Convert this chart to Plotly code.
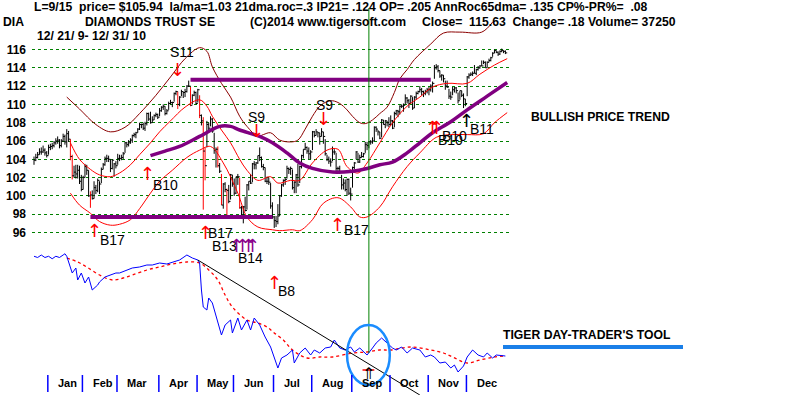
import plotly.graph_objects as go
import pandas as pd

# ---------------- data ----------------
holidays = ['2009-12-25', '2010-01-01', '2010-01-18', '2010-02-15', '2010-04-02',
            '2010-05-31', '2010-07-05', '2010-09-06', '2010-11-25', '2010-12-24']
dates = [d for d in pd.bdate_range('2009-12-21', '2010-12-31')
         if d.strftime('%Y-%m-%d') not in holidays]

close_dec09 = [103.9, 104.2, 104.5, 104.8, 104.8, 105.0, 104.7, 104.4]
high_dec09 = [104.3, 104.6, 104.8, 105.2, 105.3, 105.5, 105.2, 104.9]
low_dec09 = [103.4, 103.8, 104.1, 104.5, 104.5, 104.7, 104.4, 104.2]

close_jan = [105.3, 105.4, 105.5, 105.8, 106.0, 106.1, 105.5, 106.0, 106.5, 105.9, 106.8, 106.2, 104.3, 102.2, 102.6, 102.4, 102.8, 101.6, 100.7]
high_jan = [105.6, 105.7, 105.8, 106.0, 106.3, 106.5, 106.2, 106.2, 106.8, 106.7, 107.3, 107.1, 106.2, 104.5, 103.3, 103.4, 103.4, 103.3, 102.3]
low_jan = [104.5, 105.0, 105.1, 105.3, 105.6, 105.7, 105.2, 105.3, 105.9, 105.6, 105.3, 105.9, 103.9, 101.8, 102.0, 101.9, 101.9, 101.3, 100.5]

close_feb = [102.0, 103.2, 102.8, 100.0, 100.1, 99.7, 100.9, 100.6, 101.7, 101.3, 102.9, 103.4, 104.1, 104.1, 104.0, 103.0, 103.9, 103.5, 103.3]
high_feb = [102.2, 103.5, 103.4, 102.8, 100.5, 100.6, 101.6, 101.2, 101.9, 101.6, 103.1, 103.6, 104.3, 104.5, 104.4, 104.0, 104.0, 103.6, 103.8]
low_feb = [100.7, 102.0, 102.3, 99.9, 98.7, 99.6, 99.7, 100.2, 100.4, 100.2, 101.4, 102.9, 103.3, 103.7, 103.7, 102.6, 102.9, 102.1, 103.0]

close_mar = [104.1, 104.1, 104.2, 104.6, 105.8, 105.6, 105.8, 106.1, 106.6, 106.7, 106.9, 107.3, 107.8, 107.8, 107.4, 107.9, 109.0, 108.4, 108.0, 108.3, 108.8, 108.9, 108.6]
high_mar = [104.6, 104.5, 104.5, 104.8, 105.9, 105.9, 106.1, 106.3, 106.7, 106.9, 107.0, 107.4, 108.0, 107.9, 108.0, 108.1, 109.1, 109.1, 109.2, 108.7, 108.9, 109.1, 109.0]
low_mar = [103.4, 103.8, 103.9, 104.0, 104.7, 105.3, 105.4, 105.7, 105.8, 106.4, 106.3, 106.9, 107.2, 107.4, 107.2, 107.1, 107.7, 108.2, 107.9, 108.0, 108.3, 108.6, 108.4]

close_apr = [109.3, 109.7, 109.8, 109.0, 109.3, 110.1, 110.2, 110.2, 111.2, 111.4, 110.0, 110.8, 111.4, 111.3, 111.4, 112.0, 112.0, 109.9, 111.0, 111.3, 110.1]
high_apr = [109.6, 109.8, 110.0, 109.8, 109.5, 110.3, 110.5, 110.3, 111.3, 111.5, 111.4, 110.9, 111.6, 111.4, 111.7, 112.1, 112.6, 111.9, 111.1, 111.5, 111.4]
low_apr = [108.7, 109.2, 109.4, 108.8, 108.9, 109.4, 110.0, 109.7, 110.3, 111.0, 109.5, 109.8, 110.9, 110.7, 110.8, 111.3, 111.9, 109.8, 110.0, 110.9, 110.0]

close_may = [111.6, 108.8, 108.2, 104.9, 103.3, 107.8, 107.4, 108.4, 107.1, 105.0, 105.1, 103.3, 102.7, 99.0, 101.3, 100.7, 100.6, 99.4, 102.3, 101.3]
high_may = [111.7, 111.0, 108.9, 108.6, 105.3, 108.2, 108.0, 108.7, 108.5, 106.9, 105.3, 105.4, 103.6, 102.4, 101.4, 101.5, 100.8, 101.2, 102.4, 102.3]
low_may = [110.2, 108.5, 107.7, 98.5, 101.7, 105.3, 106.9, 107.6, 106.9, 104.6, 103.1, 103.1, 102.5, 99.0, 98.6, 100.4, 97.8, 99.2, 99.6, 101.0]

close_jun = [100.3, 102.1, 102.1, 98.7, 97.6, 98.8, 98.4, 101.2, 101.6, 101.4, 103.5, 103.4, 103.6, 104.4, 104.2, 103.2, 103.1, 101.6, 101.6, 101.5, 98.9, 97.7]
high_jun = [101.9, 102.1, 102.4, 102.0, 98.9, 98.9, 99.9, 101.3, 101.6, 102.4, 103.6, 103.8, 103.7, 104.4, 105.3, 104.3, 103.5, 103.1, 102.1, 102.0, 101.4, 99.3]
low_jun = [100.0, 100.2, 101.2, 98.6, 97.6, 97.0, 98.3, 98.5, 100.6, 101.3, 101.5, 102.9, 102.9, 103.5, 103.8, 103.1, 102.8, 101.5, 101.3, 101.2, 98.6, 97.5]

close_jul = [97.3, 97.2, 97.8, 100.0, 101.2, 101.7, 101.8, 103.0, 102.9, 103.0, 100.9, 101.5, 102.3, 101.2, 103.2, 104.4, 105.1, 105.3, 104.9, 104.6, 104.8]
high_jul = [97.8, 97.8, 99.1, 100.1, 101.3, 101.8, 102.0, 103.3, 103.1, 103.2, 102.9, 101.6, 102.4, 103.5, 103.3, 104.5, 105.1, 105.8, 105.4, 105.3, 105.0]
low_jul = [96.5, 96.6, 96.9, 97.8, 99.9, 101.0, 101.2, 101.9, 102.4, 102.3, 100.7, 100.3, 100.3, 101.0, 101.4, 103.0, 104.1, 105.0, 104.6, 104.0, 104.0]

close_aug = [107.0, 106.6, 107.0, 106.9, 106.5, 107.0, 106.5, 104.6, 104.0, 103.8, 103.7, 104.8, 104.8, 103.0, 103.0, 102.6, 101.2, 101.4, 100.7, 101.8, 100.3, 100.2]
high_aug = [107.1, 107.1, 107.3, 107.0, 106.9, 107.4, 107.0, 106.2, 104.5, 104.3, 104.1, 105.4, 105.1, 104.7, 103.2, 103.3, 102.3, 101.9, 101.8, 101.9, 101.9, 100.9]
low_aug = [105.0, 106.4, 106.6, 106.4, 105.6, 106.5, 105.7, 104.4, 103.8, 103.5, 103.2, 103.8, 104.5, 102.7, 102.4, 102.4, 100.7, 100.7, 100.5, 100.0, 100.1, 99.5]

close_sep = [103.1, 103.6, 104.8, 103.7, 104.2, 104.3, 104.6, 105.6, 105.5, 105.9, 105.9, 106.0, 107.5, 107.3, 107.0, 106.3, 108.3, 107.8, 108.2, 108.0, 107.8]
high_sep = [103.2, 103.7, 104.9, 104.7, 104.5, 104.8, 104.7, 105.9, 105.9, 106.0, 106.1, 106.4, 107.6, 107.6, 107.2, 107.0, 108.4, 108.3, 108.3, 108.2, 108.6]
low_sep = [100.9, 102.9, 104.0, 103.6, 103.6, 104.2, 104.2, 104.7, 105.0, 105.2, 105.6, 105.7, 106.0, 107.0, 106.6, 106.2, 106.4, 107.8, 107.4, 107.6, 107.5]

close_oct = [108.2, 107.4, 109.0, 109.3, 109.2, 109.8, 109.8, 109.9, 110.7, 110.4, 110.1, 110.9, 109.6, 110.8, 111.2, 111.4, 111.6, 111.4, 111.2, 111.4, 111.6]
high_oct = [108.8, 108.3, 109.2, 109.4, 109.4, 109.9, 110.0, 110.1, 111.1, 110.8, 110.6, 111.0, 110.8, 110.9, 111.4, 111.5, 112.0, 111.8, 111.5, 111.6, 111.8]
low_oct = [107.7, 107.3, 107.5, 108.8, 108.6, 108.9, 109.6, 109.2, 110.0, 110.1, 109.6, 110.1, 109.4, 109.6, 110.5, 111.1, 111.3, 111.0, 110.8, 111.0, 111.2]

close_nov = [111.6, 112.0, 112.3, 114.0, 114.1, 113.7, 113.1, 113.2, 112.8, 112.0, 111.9, 110.9, 110.8, 111.6, 111.8, 111.5, 110.4, 111.5, 111.0, 110.6, 110.1]
high_nov = [111.9, 112.2, 112.5, 114.3, 114.4, 114.3, 113.7, 113.3, 113.2, 112.6, 112.6, 111.7, 111.4, 111.9, 111.9, 111.9, 111.3, 111.5, 111.5, 111.2, 110.6]
low_nov = [111.0, 111.4, 111.3, 112.8, 113.8, 113.5, 112.9, 112.6, 112.4, 111.6, 111.8, 110.6, 110.5, 111.0, 111.3, 111.2, 110.1, 110.5, 110.8, 109.6, 109.8]

close_dec = [113.0, 113.2, 113.3, 113.4, 113.4, 113.8, 114.0, 114.2, 114.2, 114.6, 114.0, 114.6, 114.8, 115.1, 115.6, 115.9, 115.7, 115.5, 115.8, 115.9, 115.8, 115.63]
high_dec = [113.1, 113.4, 113.5, 113.6, 114.3, 113.9, 114.2, 114.3, 114.8, 114.8, 114.7, 114.7, 115.0, 115.2, 115.7, 116.0, 115.9, 115.8, 115.9, 116.1, 115.9, 115.9]
low_dec = [110.9, 112.8, 113.1, 113.1, 113.4, 113.2, 113.7, 113.9, 114.2, 114.4, 114.0, 114.0, 114.6, 114.7, 115.2, 115.6, 115.6, 115.3, 115.4, 115.7, 115.6, 115.5]

closes = close_dec09 + close_jan + close_feb + close_mar + close_apr + close_may + close_jun + close_jul + close_aug + close_sep + close_oct + close_nov + close_dec
highs = high_dec09 + high_jan + high_feb + high_mar + high_apr + high_may + high_jun + high_jul + high_aug + high_sep + high_oct + high_nov + high_dec
lows = low_dec09 + low_jan + low_feb + low_mar + low_apr + low_may + low_jun + low_jul + low_aug + low_sep + low_oct + low_nov + low_dec

red_bar_days = [20, 21, 31, 79, 86, 91, 93, 94, 101, 103, 106, 113]

# bands (trading-day index, price)
outer_idx = [18, 25, 34, 42, 50, 58, 67, 75, 83, 91, 95, 98, 103, 108, 113, 117, 123, 126, 130, 135, 141, 145, 149, 153, 157, 161, 164, 168, 172, 175, 179, 182, 186, 190, 194, 198, 201, 205, 209, 218, 225, 234, 246, 252]
outer_val = [110.8, 109.5, 107.8, 107.0, 107.5, 109.0, 111.0, 113.0, 115.0, 116.2, 115.8, 114.1, 112.3, 110.8, 108.7, 107.6, 106.5, 106.7, 106.9, 106.1, 105.9, 106.1, 107.3, 108.7, 109.8, 110.3, 110.4, 110.1, 109.4, 108.7, 108.0, 107.9, 108.3, 109.0, 109.7, 111.3, 112.8, 113.8, 114.9, 116.6, 117.8, 117.9, 117.9, 119.0]

inner_idx = [20, 25, 31, 36, 42, 47, 53, 58, 64, 69, 75, 83, 91, 95, 98, 103, 108, 113, 117, 123, 130, 134, 141, 146, 153, 161, 167, 172, 178, 183, 190, 197, 205, 212, 219, 227, 238, 245, 253, 260]
inner_val = [105.8, 104.0, 102.9, 102.3, 102.1, 102.5, 103.4, 104.5, 105.8, 107.0, 108.2, 109.7, 110.5, 109.8, 108.7, 107.2, 105.8, 104.0, 102.8, 101.7, 102.1, 101.4, 101.7, 101.7, 103.6, 105.0, 105.1, 103.2, 102.5, 103.6, 105.8, 108.0, 109.8, 110.8, 111.9, 112.3, 112.3, 113.3, 114.3, 115.0]

lower_idx = [20, 25, 31, 36, 42, 47, 53, 58, 64, 69, 76, 84, 91, 97, 104, 112, 117, 123, 131, 135, 142, 146, 153, 159, 167, 174, 179, 183, 190, 197, 205, 212, 221, 229, 238, 247, 253, 260]
lower_val = [100.3, 99.0, 98.1, 97.2, 96.8, 96.9, 97.4, 98.6, 100.3, 101.6, 102.8, 104.2, 105.0, 105.4, 103.6, 100.3, 97.7, 96.6, 96.3, 96.2, 96.3, 96.2, 97.4, 99.2, 99.8, 98.8, 97.7, 97.7, 98.8, 101.0, 103.2, 104.7, 106.4, 106.7, 106.7, 106.8, 108.0, 109.1]

ma65_idx = [64, 72, 80, 91, 102, 108, 113, 124, 131, 139, 146, 153, 164, 175, 183, 190, 197, 205, 212, 219, 229, 238, 249, 260]
ma65_val = [104.4, 104.9, 105.4, 106.5, 107.6, 107.6, 107.2, 106.5, 105.8, 104.7, 103.6, 103.0, 102.6, 102.7, 103.0, 103.4, 103.7, 104.7, 105.8, 106.9, 108.1, 109.4, 110.9, 112.4]

resist_level, resist_from, resist_to = 112.7, 86, 218
support_level, support_from, support_to = 97.7, 31, 131

# Tiger Day-Trader's Tool oscillator
dtt_idx = [0, 2, 4, 6, 8, 10, 12, 14, 16, 17, 18, 21, 23, 24, 26, 28, 30, 32, 35, 36, 39, 42, 45, 47, 51, 54, 58, 62, 65, 69, 73, 76, 80, 84, 87, 90, 91, 92, 93, 95, 96, 98, 101, 103, 105, 108, 109, 112, 114, 117, 119, 121, 124, 127, 130, 132, 134, 136, 139, 142, 143, 146, 149, 152, 154, 157, 160, 163, 165, 168, 171, 174, 176, 179, 183, 186, 188, 191, 194, 197, 199, 202, 205, 208, 212, 215, 218, 220, 223, 226, 229, 231, 233, 236, 238, 241, 244, 247, 249, 252, 254, 259]
dtt_val = [99, 98, 100, 98, 99, 97, 99, 98, 100, 101, 99, 85.6, 89.6, 80, 85.6, 77.6, 82.4, 72, 76, 78.4, 82.4, 84, 85.6, 85.6, 88, 89.6, 90.4, 92, 92, 93.6, 92.8, 94.4, 96, 100, 97.6, 96, 93.6, 72, 58.4, 56, 65.6, 61.6, 45.6, 36, 44, 48, 37.6, 49.6, 40, 48, 40, 49.6, 44, 34.4, 26.4, 17.6, 9.6, 17.6, 20, 24, 13.6, 21.6, 25.6, 20, 24, 21.6, 25.6, 26.4, 32, 25.6, 24, 26.4, 22.4, 25.6, 20, 25.6, 29.6, 33.6, 29.6, 25.6, 24, 26.4, 21.6, 25.6, 24, 18.4, 20, 18.4, 13.6, 14.4, 9.6, 12, 6.4, 11.2, 18.4, 24, 20, 18.4, 21.6, 17.6, 20, 19.2]

dttma_idx = [18, 24, 29, 36, 43, 49, 54, 62, 69, 76, 84, 91, 96, 101, 105, 109, 117, 123, 128, 132, 137, 142, 150, 157, 164, 175, 183, 190, 196, 207, 218, 225, 230, 238, 245, 253, 259]
dttma_val = [97.6, 94.4, 90.4, 84, 80, 81.6, 84, 88, 90.4, 92.8, 94.4, 93.6, 88, 80, 68, 58.4, 48, 45.6, 42.4, 37.6, 32, 24, 17.6, 18.4, 18.4, 21.6, 22.4, 24, 24, 26.4, 24, 21.6, 18.4, 13.6, 16, 18.4, 19.2]

trend_idx = [90, 212]
trend_val = [96, -12]

signal_day = 184  # L=9/15

month_names = ['Jan', 'Feb', 'Mar', 'Apr', 'May', 'Jun', 'Jul', 'Aug', 'Sep', 'Oct', 'Nov', 'Dec']
price_ticks = [96, 98, 100, 102, 104, 106, 108, 110, 112, 114, 116]

# signal labels (text, trading-day index, price)
signal_labels = [("S11", 81.3, 115.7), ("S9", 122, 108.6), ("S9", 159.5, 109.9),
                 ("B10", 72, 101.2), ("B17", 43.4, 95.2), ("B17", 102.7, 95.9),
                 ("B13", 104.9, 94.5), ("B14", 118.7, 93.2), ("B17", 177, 96.3),
                 ("B8", 139, 89.6), ("B10", 229, 106.1), ("B10", 231.3, 106.6),
                 ("B11", 246.2, 107.3)]
RED, PURPLE, BLACK = "#ff0000", "#8b008b", "#000000"
signal_arrows = [("↓", 79.1, 113.8, RED), ("↓", 122, 107.2, RED), ("↓", 158.8, 108.5, RED),
                 ("↑", 62.1, 102.4, RED), ("↑", 33, 96.2, RED), ("↑", 94.5, 96.0, RED),
                 ("↑", 111.5, 94.6, PURPLE), ("↑", 114.3, 94.6, PURPLE),
                 ("↑", 117.6, 94.6, PURPLE), ("↑", 120.3, 94.6, PURPLE),
                 ("↑", 166.5, 96.9, RED), ("↑", 131.9, 90.5, RED),
                 ("↑", 219.2, 107.5, RED), ("↑", 221.4, 107.5, RED), ("↑", 237.9, 108.2, BLACK)]

# ---------------- figure ----------------
W, H = 800, 395
PX0, PXD = 34.0, 1.82           # x pixel of day 0, pixels per trading day
PRICE_TOP, PX_PER_PT = 121.41, 9.15


def py(y_px):
    return 1 - y_px / H


fig = go.Figure()

# price bars
bx, by, rx, ry, cx, cy = [], [], [], [], [], []
for i, (h, l, c) in enumerate(zip(highs, lows, closes)):
    if i in red_bar_days:
        rx += [i, i, None]; ry += [l, h, None]
    else:
        bx += [i, i, None]; by += [l, h, None]
    cx += [i, i + 1.0, None]; cy += [c, c, None]

fig.add_trace(go.Scatter(x=bx, y=by, mode='lines', line=dict(color='black', width=1), hoverinfo='skip'))
fig.add_trace(go.Scatter(x=rx, y=ry, mode='lines', line=dict(color='red', width=1), hoverinfo='skip'))
fig.add_trace(go.Scatter(x=cx, y=cy, mode='lines', line=dict(color='black', width=1), hoverinfo='skip'))

# bands
fig.add_trace(go.Scatter(x=outer_idx, y=outer_val, mode='lines', line=dict(color='#8b0000', width=1, shape='spline')))
fig.add_trace(go.Scatter(x=inner_idx, y=inner_val, mode='lines', line=dict(color='#ff0000', width=1, shape='spline')))
fig.add_trace(go.Scatter(x=lower_idx, y=lower_val, mode='lines', line=dict(color='#ff0000', width=1, shape='spline')))
fig.add_trace(go.Scatter(x=ma65_idx, y=ma65_val, mode='lines', line=dict(color='#800080', width=3.5, shape='spline')))
fig.add_trace(go.Scatter(x=[resist_from, resist_to], y=[resist_level, resist_level], mode='lines', line=dict(color='#800080', width=4)))
fig.add_trace(go.Scatter(x=[support_from, support_to], y=[support_level, support_level], mode='lines', line=dict(color='#800080', width=4)))

# oscillator
fig.add_trace(go.Scatter(x=dttma_idx, y=dttma_val, yaxis='y2', mode='lines', line=dict(color='#ff0000', width=1.3, dash='dot', shape='spline')))
fig.add_trace(go.Scatter(x=dtt_idx, y=dtt_val, yaxis='y2', mode='lines', line=dict(color='#0000ff', width=1)))
fig.add_trace(go.Scatter(x=trend_idx, y=trend_val, yaxis='y2', mode='lines', line=dict(color='black', width=1), cliponaxis=False))

shapes = []
# green vertical line at signal day
shapes.append(dict(type='line', xref='x', yref='paper', x0=signal_day, x1=signal_day,
                   y0=py(353), y1=py(8), line=dict(color='#008000', width=1)))
# blue ellipse around the signal day on the oscillator
shapes.append(dict(type='circle', xref='x', yref='y2', x0=signal_day - 12, x1=signal_day + 11.5,
                   y0=-4, y1=44, line=dict(color='#1a8cff', width=2.5)))
# red cross mark at signal
shapes.append(dict(type='line', xref='x', yref='y2', x0=signal_day - 3.5, x1=signal_day + 3,
                   y0=8, y1=8, line=dict(color='red', width=1.5)))
# blue underline for DTT label
shapes.append(dict(type='line', xref='paper', yref='paper', x0=503 / W, x1=683 / W,
                   y0=py(347), y1=py(347), line=dict(color='#1a7fe8', width=4)))

annotations = []
# month ticks + labels
month_starts = []
for m in range(1, 13):
    for i, d in enumerate(dates):
        if d.year == 2010 and d.month == m:
            month_starts.append(i)
            break
for name, i in zip(month_names, month_starts):
    shapes.append(dict(type='line', xref='x', yref='paper', x0=i - 0.4, x1=i - 0.4,
                       y0=py(392), y1=py(375), line=dict(color='#0000ff', width=1.5)))
    annotations.append(dict(x=i + 4.6, y=py(383), xref='x', yref='paper', text='<b>%s</b>' % name,
                            showarrow=False, xanchor='left', yanchor='middle', borderpad=0,
                            font=dict(family='Liberation Sans', size=11, color='black')))

for t, i, p in signal_labels:
    annotations.append(dict(x=i, y=p, xref='x', yref='y', text=t, showarrow=False,
                            xanchor='center', yanchor='middle',
                            font=dict(family='Liberation Sans', size=14, color='black')))
for t, i, p, col in signal_arrows:
    annotations.append(dict(x=i, y=p, xref='x', yref='y', text=t, showarrow=False,
                            xanchor='center', yanchor='middle',
                            font=dict(family='DejaVu Sans', size=18, color=col)))
annotations.append(dict(x=signal_day, y=5, xref='x', yref='y2', text='⇑', showarrow=False,
                        xanchor='center', yanchor='middle',
                        font=dict(family='DejaVu Sans', size=16, color='black')))

hdr = dict(family='Liberation Sans', size=12.2, color='black')
nb = '\u00a0'


def header(x_px, y_px, text):
    annotations.append(dict(x=x_px / W, y=py(y_px), xref='paper', yref='paper', text='<b>%s</b>' % text,
                            showarrow=False, xanchor='left', yanchor='middle', borderpad=0, font=hdr))


header(33, 7, ("L=9/15  price= $105.94  la/ma=1.03 21dma.roc=.3 IP21= .124 OP= .205 "
               "AnnRoc65dma= .135 CP%-PR%=  .08").replace('  ', nb * 2))
header(2, 22, 'DIA')
header(84, 22, 'DIAMONDS TRUST SE')
header(249, 22, '(C)2014 www.tigersoft.com')
header(421, 22, ('Close=  115.63  Change= .18 Volume= 37250').replace('  ', nb * 2))
header(36, 36, '12/ 21/ 9- 12/ 31/ 10')
header(530, 117, 'BULLISH PRICE TREND')
header(502, 335, "TIGER DAY-TRADER'S TOOL")

x0 = (32 - PX0) / PXD
x1 = (509 - PX0) / PXD
fig.update_layout(
    width=W, height=H, margin=dict(l=0, r=0, t=0, b=0),
    paper_bgcolor='white', plot_bgcolor='white', showlegend=False,
    xaxis=dict(domain=[32 / W, 509 / W], range=[x0, x1], showgrid=False, zeroline=False,
               showticklabels=False, showline=False, ticks=''),
    yaxis=dict(domain=[0, 1], range=[PRICE_TOP - H / PX_PER_PT, PRICE_TOP], tickvals=price_ticks,
               ticktext=['<b>%d</b>' % v for v in price_ticks],
               showgrid=True, gridcolor='#008000', griddash='dot', gridwidth=1,
               zeroline=False, showline=False, ticks='', ticklabelstandoff=5,
               tickfont=dict(family='Liberation Sans', size=12, color='black')),
    yaxis2=dict(overlaying='y', range=[-12, 304], visible=False),
    shapes=shapes, annotations=annotations,
)

fig.write_html("out.html", config={'displayModeBar': False},
               post_script="document.body.style.margin='0';document.body.style.overflow='hidden';")
